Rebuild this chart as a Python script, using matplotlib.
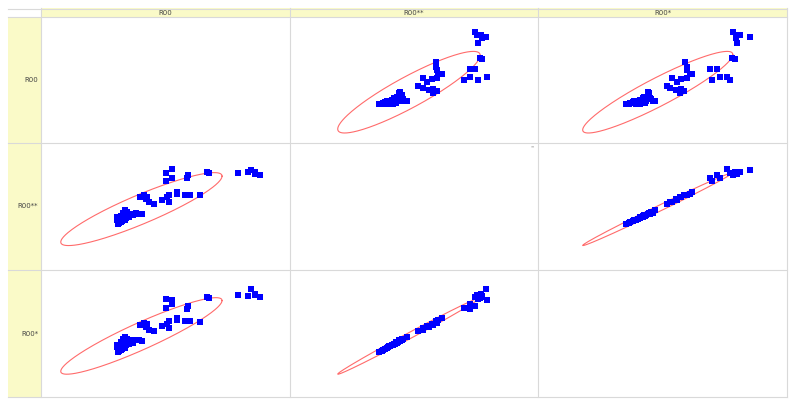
import numpy as np
import matplotlib
matplotlib.use('Agg')
import matplotlib.pyplot as plt
from matplotlib.patches import Rectangle

# variables of the scatterplot matrix
names = ['R00', 'R00**', 'R00*']

# values (scaled 0..1 over each panel)
# main blob, middle group, upper group, right group
r00 = [0.310, 0.320, 0.336, 0.315, 0.341, 0.354, 0.368, 0.407, 0.381, 0.336,
       0.347, 0.336, 0.320, 0.307, 0.307, 0.394, 0.362, 0.341, 0.354, 0.330,
       0.345, 0.325, 0.370, 0.330, 0.312,
       0.513, 0.487, 0.505, 0.513, 0.548, 0.545, 0.579, 0.452, 0.434, 0.421,
       0.399, 0.413, 0.426, 0.640, 0.600,
       0.500, 0.525, 0.500, 0.525, 0.585, 0.590, 0.675, 0.665,
       0.790, 0.830, 0.845, 0.860, 0.880, 0.860]
r00_2 = [0.360, 0.376, 0.390, 0.401, 0.410, 0.419, 0.430, 0.444, 0.450, 0.437,
         0.457, 0.470, 0.427, 0.397, 0.414, 0.441, 0.433, 0.423, 0.444, 0.405,
         0.430, 0.385, 0.440, 0.450, 0.370,
         0.535, 0.551, 0.571, 0.591, 0.598, 0.611, 0.594, 0.517, 0.535, 0.562,
         0.575, 0.594, 0.578, 0.587, 0.590,
         0.700, 0.725, 0.760, 0.795, 0.725, 0.745, 0.765, 0.775,
         0.760, 0.775, 0.790, 0.755, 0.745, 0.770]
r00_1 = [0.355, 0.370, 0.385, 0.400, 0.410, 0.420, 0.425, 0.440, 0.445, 0.435,
         0.455, 0.470, 0.430, 0.395, 0.410, 0.445, 0.430, 0.420, 0.450, 0.400,
         0.435, 0.380, 0.445, 0.460, 0.365,
         0.540, 0.560, 0.575, 0.600, 0.610, 0.620, 0.600, 0.520, 0.530, 0.555,
         0.570, 0.585, 0.575, 0.590, 0.600,
         0.700, 0.730, 0.770, 0.760, 0.690, 0.720, 0.780, 0.790,
         0.800, 0.795, 0.850, 0.800, 0.785, 0.810]
# overplotted rows in the dense blob
counts = [3, 3, 4, 4, 4, 4, 4, 3, 3, 4, 3, 3, 4, 3, 3, 3, 4, 4, 4, 4, 4, 4, 3, 3, 3] + [1] * 29

data = [np.array(r00), np.array(r00_2), np.array(r00_1)]
w = np.array(counts)

W, H = 798, 408
fig = plt.figure(figsize=(W / 100, H / 100), dpi=100)
bg = fig.add_axes([0, 0, 1, 1])
bg.set_xlim(0, W)
bg.set_ylim(H, 0)
bg.axis('off')

xs = [41, 290, 538, 787]
ys = [17, 143, 270, 397]
left, top = 8, 8
yellow = '#fafac8'
gridc = '#d9d9d9'

# header cells
for i in range(3):
    bg.add_patch(Rectangle((xs[i], top), xs[i + 1] - xs[i], ys[0] - top, fc=yellow, ec='none'))
    bg.text((xs[i] + xs[i + 1]) / 2, (top + ys[0]) / 2 + 0.5, names[i], fontsize=5,
            color='#444444', ha='center', va='center')
    bg.add_patch(Rectangle((left, ys[i]), xs[0] - left, ys[i + 1] - ys[i], fc=yellow, ec='none'))
    bg.text(xs[0] - 3, (ys[i] + ys[i + 1]) / 2, names[i], fontsize=5,
            color='#444444', ha='right', va='center')

# grid lines
for x in xs:
    bg.plot([x, x], [top, ys[-1]], color=gridc, lw=0.8)
for y in ys:
    bg.plot([left, xs[-1]], [y, y], color=gridc, lw=0.8)
bg.plot([left, xs[-1]], [top + 1, top + 1], color=gridc, lw=0.8)

k = np.sqrt(5.991)  # 95% density ellipse
t = np.linspace(0, 2 * np.pi, 300)

for r in range(3):
    for c in range(3):
        ax = fig.add_axes([xs[c] / W, 1 - ys[r + 1] / H,
                           (xs[c + 1] - xs[c]) / W, (ys[r + 1] - ys[r]) / H])
        ax.set_xlim(0, 1)
        ax.set_ylim(0, 1)
        ax.set_xticks([])
        ax.set_yticks([])
        ax.patch.set_visible(False)
        for s in ax.spines.values():
            s.set_visible(False)
        if r == c:
            continue
        x, y = data[c], data[r]
        m = np.array([np.average(x, weights=w), np.average(y, weights=w)])
        cov = np.cov(x, y, fweights=w)
        L = np.linalg.cholesky(cov)
        e = m[:, None] + k * L @ np.vstack([np.cos(t), np.sin(t)])
        ax.plot(e[0], e[1], color='#ff6b6b', lw=0.8)
        ax.scatter(x, y, marker='s', s=14, color='#0000ff', linewidths=0, zorder=3)

bg.text(533, 147, '**', fontsize=3, color='#888888', ha='center', va='center')

fig.savefig('out.png', dpi=100)
